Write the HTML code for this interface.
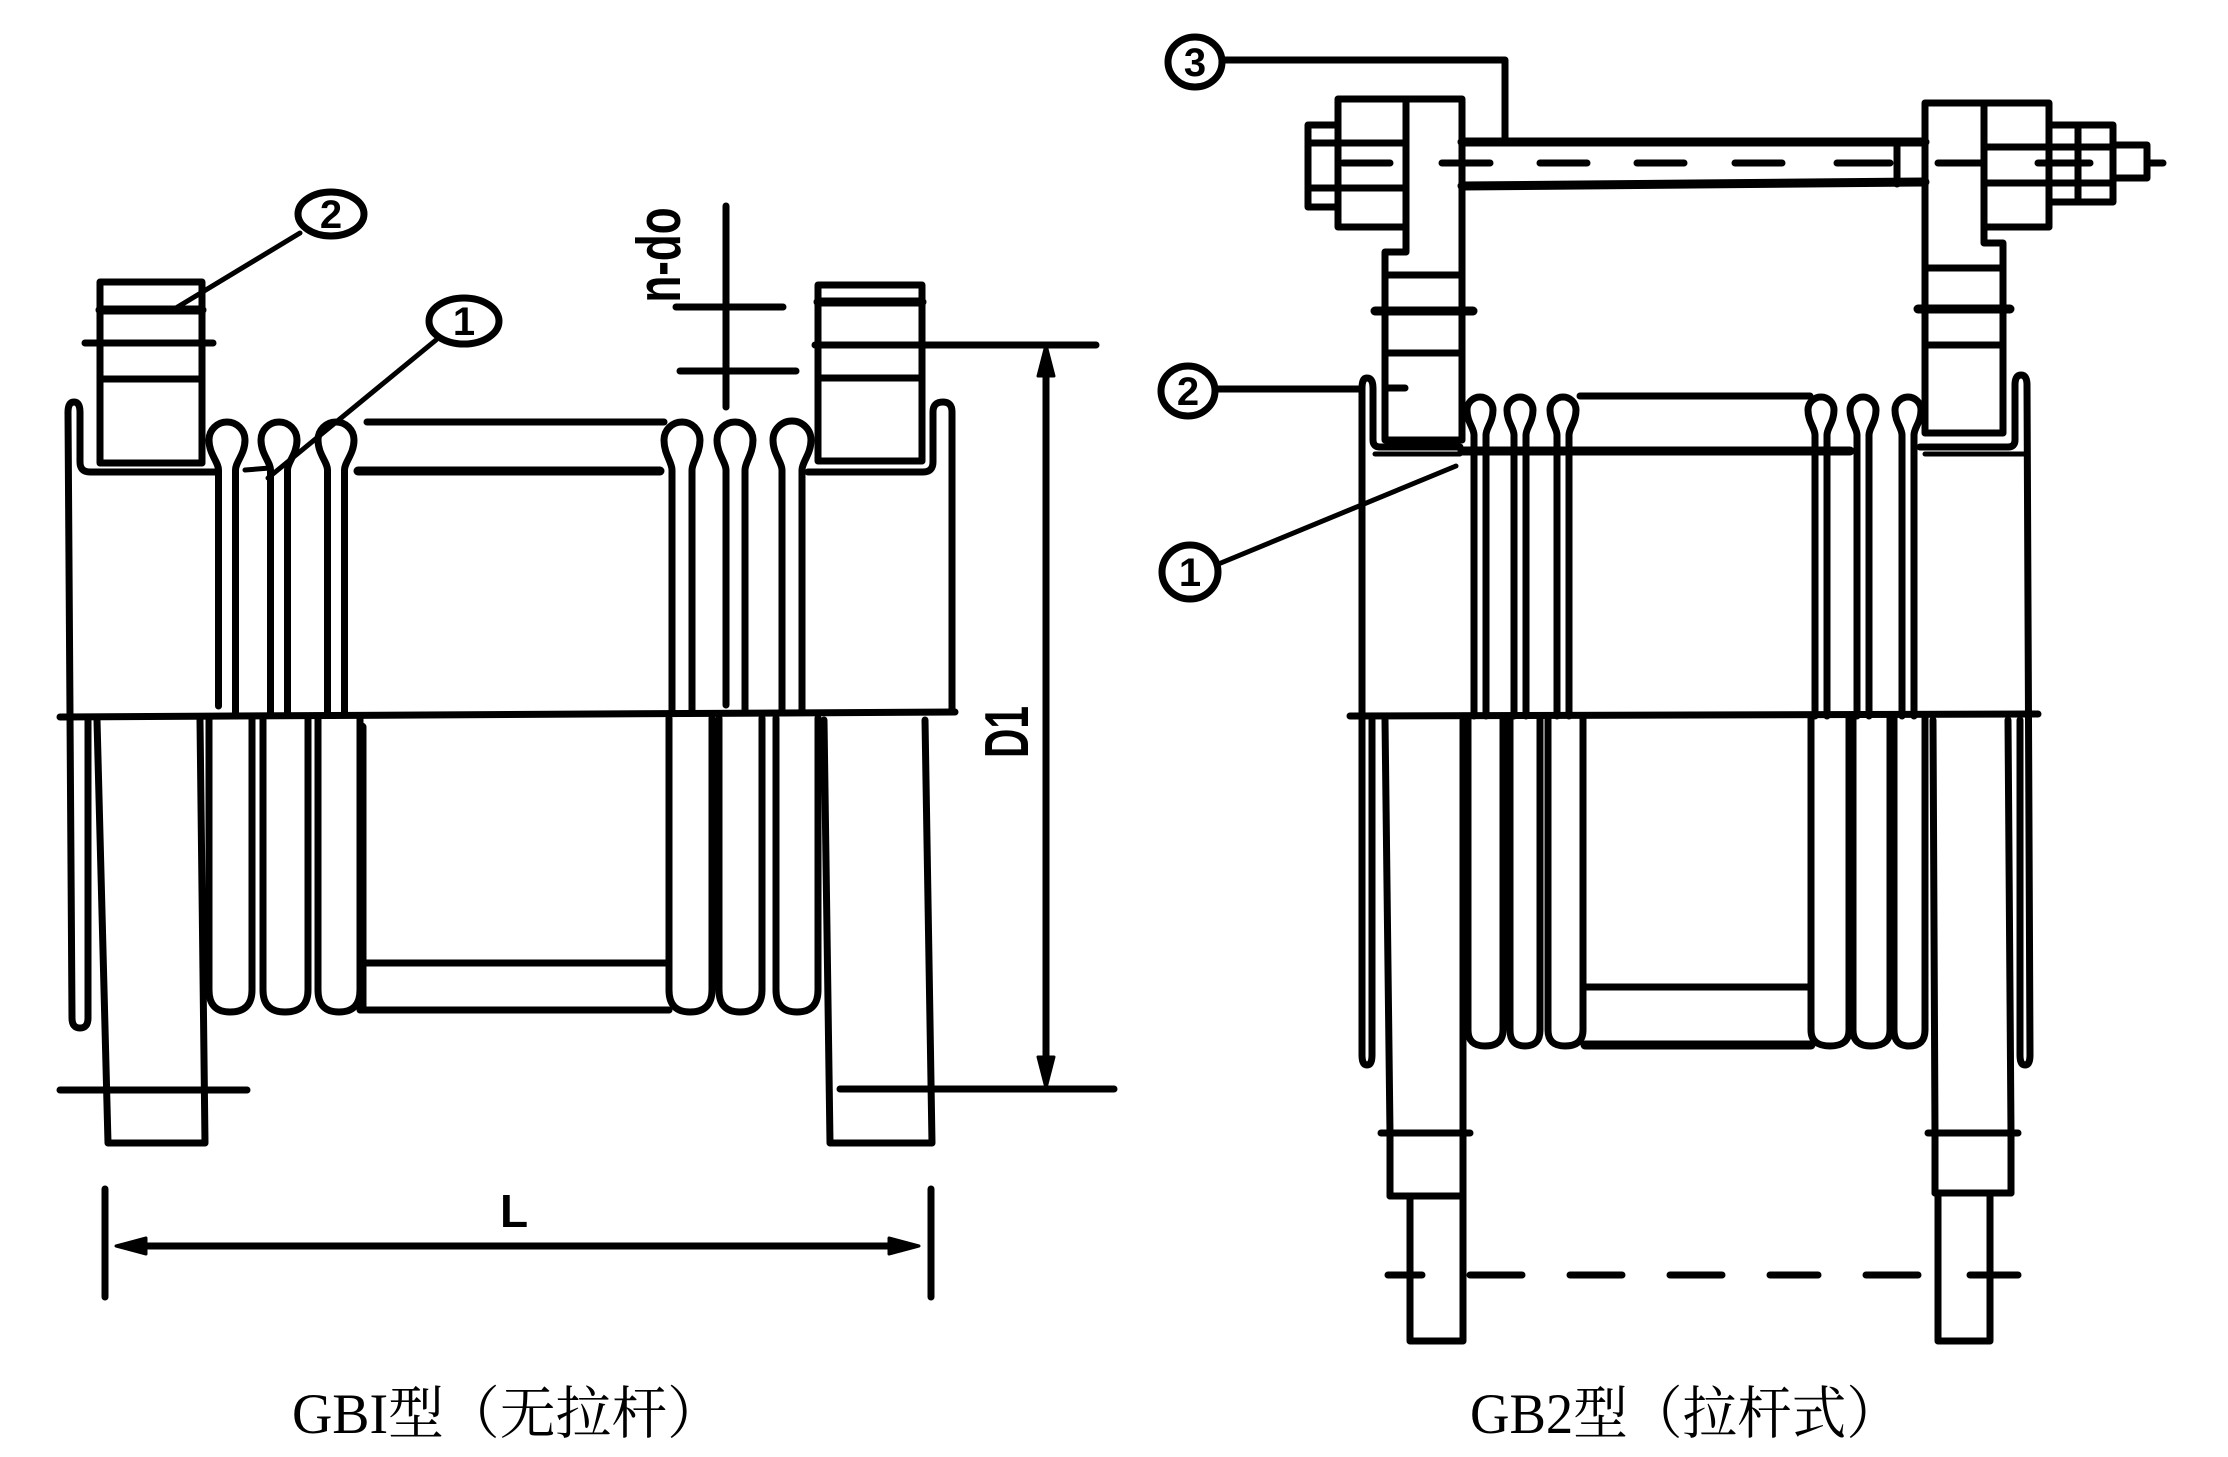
<!DOCTYPE html>
<html>
<head>
<meta charset="utf-8">
<style>
html,body{margin:0;padding:0;background:#fff;}
svg{display:block;}
.s{fill:none;stroke:#000;stroke-width:7;stroke-linecap:round;stroke-linejoin:round;}
.t{fill:none;stroke:#000;stroke-width:5;stroke-linecap:round;stroke-linejoin:round;}
.k{fill:none;stroke:#000;stroke-width:9;stroke-linecap:round;stroke-linejoin:round;}
.d{fill:none;stroke:#000;stroke-width:7;stroke-linecap:round;}
.c{fill:none;stroke:#000;stroke-width:7;}
.num{font-family:"Liberation Sans",sans-serif;font-weight:bold;font-size:40px;text-anchor:middle;fill:#000;}
.cap{font-family:"Liberation Serif","Noto Serif CJK SC",serif;font-size:57px;fill:#000;}
</style>
</head>
<body>
<svg width="2228" height="1457" viewBox="0 0 2228 1457" xmlns="http://www.w3.org/2000/svg">
<rect x="0" y="0" width="2228" height="1457" fill="#fff"/>

<!-- ================= LEFT FIGURE GB1 ================= -->
<path class="s" d="M60,717 L955,712"/>

<rect class="s" x="100" y="282" width="102" height="181"/>
<path class="k" d="M100,310 L202,310"/>
<path class="s" d="M85,343 L213,343"/>
<path class="s" d="M100,379 L202,379"/>

<rect class="s" x="818" y="285" width="104" height="176"/>
<path class="k" d="M818,302 L922,302"/>
<path class="s" d="M815,345 L1096,345"/>
<path class="s" d="M818,378 L922,378"/>

<path class="s" d="M88,720 L88,1018 Q88,1028 80,1028 Q72,1028 72,1018 L68,412 Q68,402 74,402 Q80,402 80,412 L80,462 Q80,472 90,472 L218,472"/>
<path class="s" d="M952,712 L952,412 Q952,402 943,402 Q933,402 933,412 L933,462 Q933,472 923,472 L808,472"/>

<path class="s" d="M218.5,706 L218.5,470 C218.5,462 209,454 209,440 A18,18 0 0 1 245,440 C245,454 235.5,462 235.5,470 L235.5,714"/>
<path class="s" d="M270.5,714 L270.5,470 C270.5,462 261,454 261,440 A18,18 0 0 1 297,440 C297,454 287.5,462 287.5,470 L287.5,714"/>
<path class="s" d="M327.5,714 L327.5,470 C327.5,462 318,454 318,440 A18,18 0 0 1 354,440 C354,454 344.5,462 344.5,470 L344.5,714"/>
<path class="s" d="M672,712 L672,470 C672,462 664,454 664,440 A18,18 0 0 1 700,440 C700,454 692,462 692,470 L692,712"/>
<path class="s" d="M726,705 L726,470 C726,462 717,454 717,440 A18,18 0 0 1 753,440 C753,454 745,462 745,470 L745,712"/>
<path class="s" d="M782,712 L782,470 C782,462 773,454 773,440 A19,19 0 0 1 811,440 C811,454 802,462 802,470 L802,712"/>

<path class="s" d="M367,422 L664,422"/>
<path class="k" d="M358,471 L660,471"/>
<path class="t" d="M245,470 L270,468"/>

<path class="s" d="M97,720 L108,1143 L205,1143 L200,720"/>
<path class="s" d="M60,1090 L247,1090"/>
<path class="s" d="M824,720 L830,1143 L932,1143 L925,720"/>
<path class="s" d="M840,1089 L1114,1089"/>

<path class="s" d="M209,718 L209,990 Q209,1012 230,1012 Q252,1012 252,990 L252,718"/>
<path class="s" d="M263,718 L263,990 Q263,1012 285,1012 Q308,1012 308,990 L308,718"/>
<path class="s" d="M318,718 L318,990 Q318,1012 339,1012 Q360,1012 360,990 L360,718"/>
<path class="s" d="M669,718 L669,990 Q669,1012 690,1012 Q712,1012 712,990 L712,718"/>
<path class="s" d="M719,718 L719,990 Q719,1012 740,1012 Q762,1012 762,990 L762,718"/>
<path class="s" d="M776,718 L776,990 Q776,1012 797,1012 Q818,1012 818,990 L818,718"/>

<path class="k" d="M362,727 L362,1008"/>
<path class="s" d="M362,963 L669,963"/>
<path class="s" d="M360,1010 L669,1010"/>

<path class="s" d="M726,206 L726,407"/>
<path class="s" d="M676,307 L783,307"/>
<path class="s" d="M680,371 L796,371"/>
<text transform="translate(680,255) rotate(-90)" font-family="Liberation Sans,sans-serif" font-weight="bold" font-size="62" text-anchor="middle" textLength="95" lengthAdjust="spacingAndGlyphs">n-do</text>

<path class="s" d="M1046,360 L1046,1075"/>
<path d="M1046,345 L1038,376 L1054,376 Z" fill="#000" stroke="#000" stroke-width="3" stroke-linejoin="round"/>
<path d="M1046,1088 L1038,1057 L1054,1057 Z" fill="#000" stroke="#000" stroke-width="3" stroke-linejoin="round"/>
<text transform="translate(1028,732) rotate(-90)" font-family="Liberation Sans,sans-serif" font-weight="bold" font-size="62" text-anchor="middle" textLength="52" lengthAdjust="spacingAndGlyphs">D1</text>

<path class="s" d="M105,1189 L105,1297"/>
<path class="s" d="M931,1189 L931,1297"/>
<path class="s" d="M130,1246 L905,1246"/>
<path d="M116,1246 L146,1238 L146,1254 Z" fill="#000" stroke="#000" stroke-width="3" stroke-linejoin="round"/>
<path d="M919,1246 L889,1238 L889,1254 Z" fill="#000" stroke="#000" stroke-width="3" stroke-linejoin="round"/>
<text x="514" y="1227" font-family="Liberation Sans,sans-serif" font-weight="bold" font-size="46" text-anchor="middle">L</text>

<ellipse class="c" cx="331" cy="214" rx="33" ry="22"/>
<text class="num" x="331" y="228">2</text>
<path class="t" d="M300,233 L171,311"/>
<ellipse class="c" cx="464" cy="321" rx="35" ry="23"/>
<text class="num" x="464" y="335">1</text>
<path class="t" d="M436,340 L268,478"/>

<text class="cap" x="292" y="1433" textLength="431" lengthAdjust="spacingAndGlyphs">GBI型（无拉杆）</text>

<!-- ================= RIGHT FIGURE GB2 ================= -->
<ellipse class="c" cx="1195" cy="62" rx="27" ry="25"/>
<text class="num" x="1195" y="76">3</text>
<path class="s" d="M1222,60 L1505,60 L1505,142"/>

<path class="s" d="M1338,99 L1462,99 L1462,440 L1385,440 L1385,252 L1406,252 L1406,227 L1338,227 Z"/>
<path class="s" d="M1406,99 L1406,227"/>
<path class="s" d="M1338,143 L1406,143"/>
<path class="s" d="M1338,188 L1406,188"/>
<rect class="s" x="1308" y="125" width="30" height="82"/>
<path class="s" d="M1308,143 L1338,143"/>
<path class="s" d="M1308,188 L1338,188"/>
<path class="s" d="M1385,275 L1462,275"/>
<path class="k" d="M1375,311 L1473,311"/>
<path class="s" d="M1385,353 L1462,353"/>
<path class="s" d="M1385,388 L1405,388"/>

<path class="s" d="M1925,103 L2049,103 L2049,227 L1984,227 L1984,243 L2003,243 L2003,433 L1925,433 Z"/>
<path class="s" d="M1984,103 L1984,227"/>
<path class="s" d="M1984,147 L2113,147"/>
<path class="s" d="M1984,183 L2113,183"/>
<rect class="s" x="2049" y="125" width="64" height="77"/>
<path class="s" d="M2078,125 L2078,202"/>
<rect class="s" x="2113" y="145" width="34" height="33"/>
<path class="s" d="M1925,268 L2003,268"/>
<path class="k" d="M1918,309 L2010,309"/>
<path class="s" d="M1925,345 L2003,345"/>

<path class="k" d="M1462,142 L1925,142"/>
<path class="k" d="M1462,186 L1925,182"/>
<path class="s" d="M1897,142 L1897,184"/>
<path class="d" d="M1343,163 L1390,163 M1442,163 L1490,163 M1540,163 L1587,163 M1637,163 L1684,163 M1735,163 L1782,163 M1837,163 L1890,163 M1938,163 L1982,163 M2038,163 L2090,163 M2147,163 L2163,163"/>

<ellipse class="c" cx="1188" cy="391" rx="27" ry="25"/>
<text class="num" x="1188" y="405">2</text>
<path class="s" d="M1215,389 L1360,389"/>
<ellipse class="c" cx="1190" cy="572" rx="28" ry="27"/>
<text class="num" x="1190" y="586">1</text>
<path class="t" d="M1216,565 L1456,466"/>

<path class="s" d="M1372,720 L1372,1055 Q1372,1065 1367,1065 Q1362,1065 1362,1055 L1362,388 Q1362,378 1367,378 Q1373,378 1373,388 L1373,440 Q1373,447 1380,447 L1460,447"/>
<path class="t" d="M1375,454 L1460,454"/>
<path class="s" d="M2020,720 L2020,1055 Q2020,1065 2025,1065 Q2030,1065 2030,1055 L2027,385 Q2027,375 2021,375 Q2015,375 2015,385 L2015,440 Q2015,447 2008,447 L1920,447"/>
<path class="t" d="M1925,454 L2025,454"/>

<path class="s" d="M1474,716 L1474,435 C1474,428 1467,422 1467,410 A13,13 0 0 1 1493,410 C1493,422 1486,428 1486,435 L1486,716"/>
<path class="s" d="M1514,716 L1514,435 C1514,428 1507,422 1507,410 A13,13 0 0 1 1533,410 C1533,422 1526,428 1526,435 L1526,716"/>
<path class="s" d="M1557,716 L1557,435 C1557,428 1550,422 1550,410 A13,13 0 0 1 1576,410 C1576,422 1569,428 1569,435 L1569,716"/>
<path class="s" d="M1815,716 L1815,435 C1815,428 1808,422 1808,410 A13,13 0 0 1 1834,410 C1834,422 1827,428 1827,435 L1827,716"/>
<path class="s" d="M1857,716 L1857,435 C1857,428 1850,422 1850,410 A13,13 0 0 1 1876,410 C1876,422 1869,428 1869,435 L1869,716"/>
<path class="s" d="M1902,716 L1902,435 C1902,428 1895,422 1895,410 A13,13 0 0 1 1921,410 C1921,422 1914,428 1914,435 L1914,716"/>

<path class="s" d="M1580,396 L1810,396"/>
<path class="k" d="M1462,451 L1850,451"/>

<path class="s" d="M1350,716 L2038,714"/>

<path class="s" d="M1385,720 L1390,1133 L1390,1196 L1410,1196 L1410,1341 L1463,1341 L1463,720"/>
<path class="s" d="M1381,1133 L1470,1133"/>
<path class="s" d="M1390,1196 L1463,1196"/>
<path class="s" d="M1933,720 L1935,1133 L1935,1193 L1938,1193 L1938,1341 L1990,1341 L1990,1193 L2011,1193 L2011,1133 L2008,720"/>
<path class="s" d="M1928,1133 L2018,1133"/>
<path class="s" d="M1935,1193 L2011,1193"/>

<path class="d" d="M1388,1275 L1422,1275 M1470,1275 L1522,1275 M1570,1275 L1622,1275 M1670,1275 L1722,1275 M1770,1275 L1818,1275 M1866,1275 L1918,1275 M1970,1275 L2018,1275"/>

<path class="s" d="M1468,718 L1468,1030 Q1468,1046 1485,1046 Q1503,1046 1503,1030 L1503,718"/>
<path class="s" d="M1510,718 L1510,1030 Q1510,1046 1525,1046 Q1540,1046 1540,1030 L1540,718"/>
<path class="s" d="M1548,718 L1548,1030 Q1548,1046 1565,1046 Q1583,1046 1583,1030 L1583,718"/>
<path class="s" d="M1811,718 L1811,1030 Q1811,1046 1830,1046 Q1849,1046 1849,1030 L1849,718"/>
<path class="s" d="M1853,718 L1853,1030 Q1853,1046 1871,1046 Q1890,1046 1890,1030 L1890,718"/>
<path class="s" d="M1894,718 L1894,1030 Q1894,1046 1909,1046 Q1925,1046 1925,1030 L1925,718"/>

<path class="s" d="M1583,987 L1811,987"/>
<path class="k" d="M1585,1045 L1811,1045"/>

<text class="cap" x="1470" y="1433" textLength="431" lengthAdjust="spacingAndGlyphs">GB2型（拉杆式）</text>
</svg>
</body>
</html>
